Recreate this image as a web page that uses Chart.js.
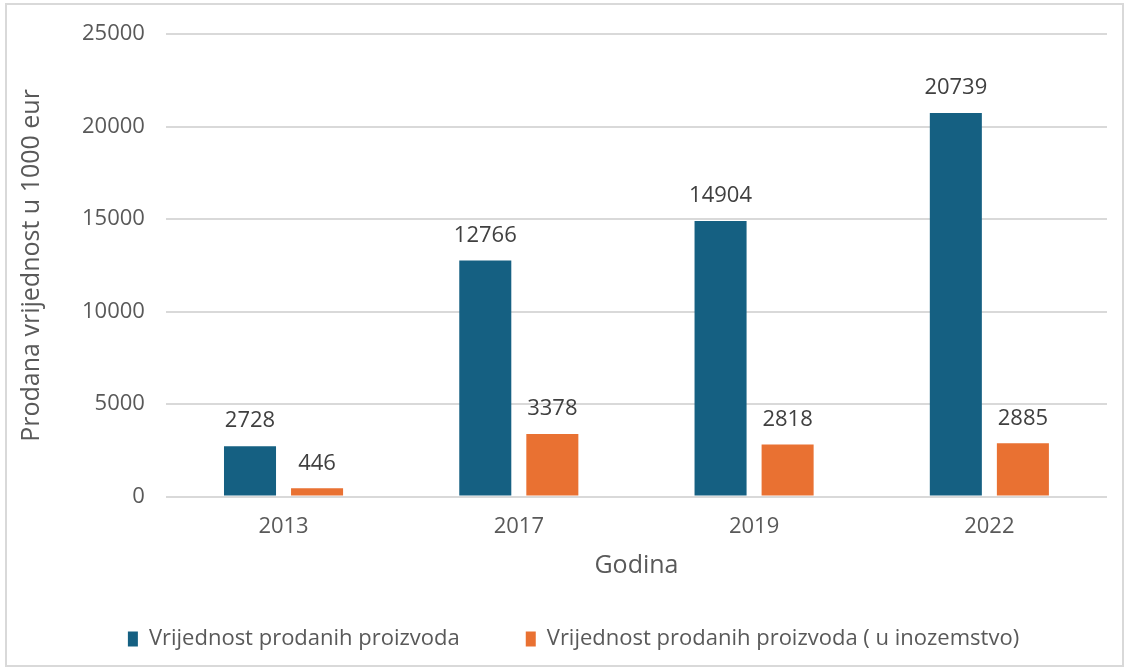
<!DOCTYPE html>
<html>
<head>
<meta charset="utf-8">
<script src="https://cdn.jsdelivr.net/npm/chart.js@4/dist/chart.umd.min.js"></script>
<style>
  html, body { margin: 0; padding: 0; background: #fff; }
  #wrap { position: relative; width: 1129px; height: 670px; }
  #okvir { position: absolute; left: 5px; top: 3px; width: 1115px; height: 660px; border: 2px solid #d9d9d9; pointer-events: none; }
</style>
</head>
<body>
<div id="wrap">
  <canvas id="grafico" width="1129" height="670"></canvas>
  <div id="okvir"></div>
</div>
<script>
const godine = ['2013', '2017', '2019', '2022'];
const prodano = [2728, 12766, 14904, 20739];
const inozemstvo = [446, 3378, 2818, 2885];
const nazivi = ['Vrijednost prodanih proizvoda', 'Vrijednost prodanih proizvoda ( u inozemstvo)'];

const font = '"Open Sans", "Liberation Sans", sans-serif';

// brojke iznad stupaca
const oznake = {
  id: 'oznake',
  afterDatasetsDraw(chart) {
    const ctx = chart.ctx;
    ctx.save();
    ctx.font = '22px ' + font;
    ctx.fillStyle = '#404040';
    ctx.textAlign = 'center';
    ctx.textBaseline = 'middle';
    chart.data.datasets.forEach((ds, i) => {
      chart.getDatasetMeta(i).data.forEach((bar, j) => {
        ctx.fillText(ds.data[j], bar.x, bar.y - 25);
      });
    });
    ctx.restore();
  }
};

// legenda: fiksna visina i malo pomaknuta (kao u Excelu)
const legendaPomak = {
  id: 'legendaPomak',
  beforeUpdate(chart) {
    const lg = chart.legend;
    if (lg && !lg._fiksno) {
      const fit = lg.fit.bind(lg);
      lg.fit = function () { fit(); this.height = 89; };
      lg._fiksno = true;
    }
  },
  afterLayout(chart) {
    const lg = chart.legend;
    lg.top -= 19; lg.bottom -= 19;
    lg.left += 15; lg.right += 15;
  }
};

new Chart(document.getElementById('grafico'), {
  type: 'bar',
  data: {
    labels: godine,
    datasets: [
      { label: nazivi[0], data: prodano, backgroundColor: '#156082' },
      { label: nazivi[1], data: inozemstvo, backgroundColor: '#E97132' }
    ]
  },
  options: {
    responsive: false,
    animation: false,
    layout: { padding: { left: 10, right: 22, top: 20, bottom: 0 } },
    datasets: { bar: { categoryPercentage: 0.57, barPercentage: 0.776 } },
    scales: {
      x: {
        grid: { display: false },
        border: { display: false },
        ticks: { color: '#595959', font: { family: font, size: 22 }, padding: 9 },
        title: { display: true, text: 'Godina', color: '#595959', font: { family: font, size: 25 }, padding: { top: 2, bottom: 0 } }
      },
      y: {
        min: 0,
        max: 25000,
        ticks: { stepSize: 5000, color: '#595959', font: { family: font, size: 22 }, padding: 21,
          callback: v => String(v) },
        grid: { color: '#d9d9d9', lineWidth: 2, drawTicks: false },
        border: { display: false },
        title: { display: true, text: 'Prodana vrijednost u 1000 eur', color: '#595959', font: { family: font, size: 25 }, padding: { top: 7, bottom: 14 } }
      }
    },
    plugins: {
      legend: {
        position: 'bottom',
        labels: { color: '#595959', font: { family: font, size: 22 }, boxWidth: 10, boxHeight: 15, padding: 66 }
      },
      tooltip: { enabled: false }
    }
  },
  plugins: [oznake, legendaPomak]
});
</script>
</body>
</html>
